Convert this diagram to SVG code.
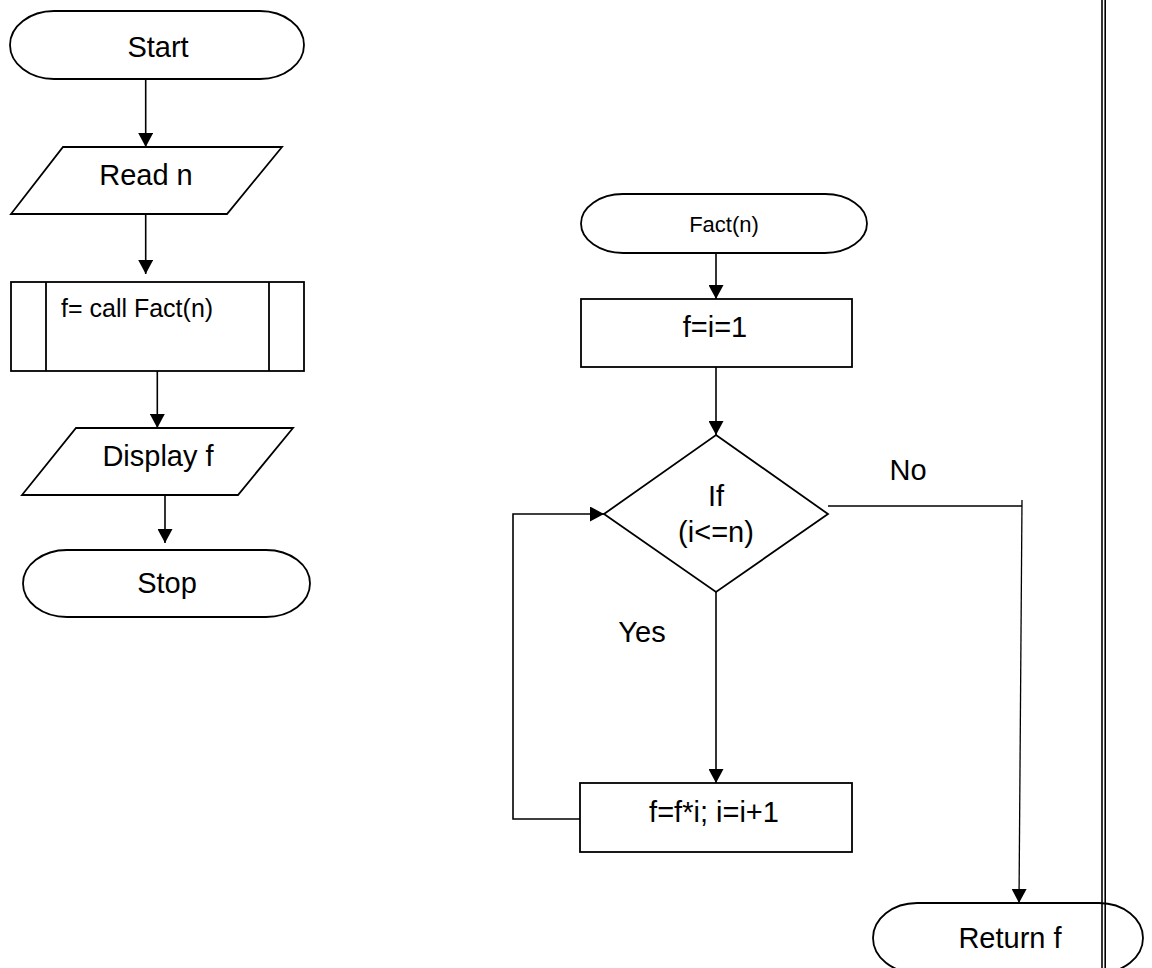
<svg xmlns="http://www.w3.org/2000/svg" width="1152" height="968" viewBox="0 0 1152 968">
<defs>
<style>
.s{fill:#fff;stroke:#000;stroke-width:1.8}
.c{fill:none;stroke:#000;stroke-width:1.6}
.t{font-family:"Liberation Sans",Arial,sans-serif;font-size:29px;fill:#000;text-anchor:middle}
</style>
<marker id="ah" markerUnits="userSpaceOnUse" markerWidth="16" markerHeight="15" refX="14" refY="7.5" orient="auto">
<path d="M0,0 L14,7.5 L0,15 Z" fill="#000"/>
</marker>
</defs>
<rect width="1152" height="968" fill="#fff"/>
<g id="start">
<rect class="s" x="10" y="11" width="294" height="68" rx="44" ry="34"/>
<text class="t" x="158" y="57">Start</text>
</g>
<g id="read">
<polygon class="s" points="63,147 282,147 227,214 11,214"/>
<text class="t" x="146" y="185">Read n</text>
</g>
<g id="call">
<rect class="s" x="11" y="282" width="293" height="89"/>
<line class="s" x1="46" y1="282" x2="46" y2="371"/>
<line class="s" x1="269" y1="282" x2="269" y2="371"/>
<text class="t" x="61" y="317" style="font-size:25px;text-anchor:start">f= call Fact(n)</text>
</g>
<g id="display">
<polygon class="s" points="76,428 293,428 238,495 22,495"/>
<text class="t" x="158" y="466">Display f</text>
</g>
<g id="stop">
<rect class="s" x="23" y="550" width="287" height="67" rx="44" ry="33.5"/>
<text class="t" x="167" y="593">Stop</text>
</g>
<g id="fact">
<rect class="s" x="581" y="194" width="286" height="59" rx="42" ry="29.5"/>
<text class="t" x="724" y="232" style="font-size:22px">Fact(n)</text>
</g>
<g id="init">
<rect class="s" x="581" y="299" width="271" height="68"/>
<text class="t" x="715" y="337">f=i=1</text>
</g>
<g id="decision">
<polygon class="s" points="716,435 828,514 716,592 604,514"/>
<text class="t" x="716" y="506">If</text>
<text class="t" x="716" y="542">(i&lt;=n)</text>
</g>
<g id="update">
<rect class="s" x="580" y="783" width="272" height="69"/>
<text class="t" x="714" y="822">f=f*i; i=i+1</text>
</g>
<g id="return">
<rect class="s" x="873" y="903" width="270" height="70" rx="44" ry="35"/>
<text class="t" x="1010" y="948">Return f</text>
</g>
<g id="connectors">
<line class="c" x1="145.7" y1="79" x2="145.7" y2="147" marker-end="url(#ah)"/>
<line class="c" x1="145.7" y1="214" x2="145.7" y2="274" marker-end="url(#ah)"/>
<line class="c" x1="157.3" y1="371" x2="157.3" y2="428" marker-end="url(#ah)"/>
<line class="c" x1="165" y1="495" x2="165" y2="543" marker-end="url(#ah)"/>
<line class="c" x1="716" y1="253" x2="716" y2="299" marker-end="url(#ah)"/>
<line class="c" x1="716" y1="367" x2="716" y2="435" marker-end="url(#ah)"/>
<line class="c" x1="716" y1="592" x2="716" y2="783" marker-end="url(#ah)"/>
<polyline class="c" points="580,819 513,819 513,514 604,514" marker-end="url(#ah)"/>
<line class="c" x1="828" y1="506" x2="1022" y2="506" style="stroke-width:1.3"/>
<line class="c" x1="1022" y1="500" x2="1019" y2="903" style="stroke-width:1.3" marker-end="url(#ah)"/>
<text class="t" x="908" y="480">No</text>
<text class="t" x="642" y="642">Yes</text>
</g>
<g id="border">
<line x1="1102" y1="0" x2="1102" y2="968" stroke="#000" stroke-width="1.6"/>
<line x1="1105.2" y1="0" x2="1105.2" y2="968" stroke="#000" stroke-width="1.6"/>
</g>
</svg>
